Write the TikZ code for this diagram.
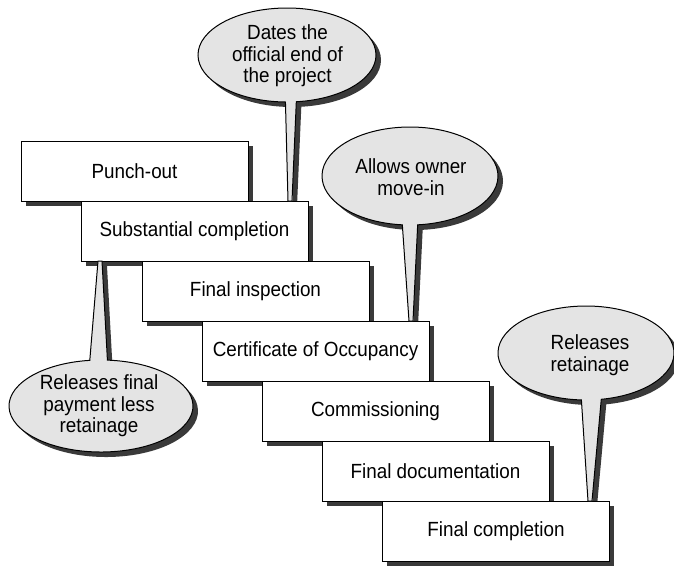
\documentclass[tikz,border=0pt]{standalone}
\usepackage{fontspec}
\setmainfont{Liberation Sans}[FakeStretch=0.92]
\usetikzlibrary{calc}

\definecolor{shadowgray}{RGB}{58,58,58}
\definecolor{bubblegray}{RGB}{228,228,228}

% Speech balloon outline: ellipse centre #1, radii #2/#3, pointer leaving the
% ellipse at angle #4, running to tips #5 and #6, back at angle #7, then the
% rest of the ellipse as an arc ending at angle #8.
\newcommand{\balloon}[8]{($(#1)+(#4:#2 and #3)$) -- (#5) -- (#6) --
  ($(#1)+(#7:#2 and #3)$) arc[start angle=#7, end angle=#8, x radius=#2, y radius=#3] -- cycle}

\tikzset{
  labelfont/.style={font=\fontsize{20.5}{21.5}\selectfont},
  stepbox/.style={draw, line width=1pt, fill=white, minimum width=227pt,
    minimum height=60pt, inner sep=0pt, labelfont},
  bubble/.style={draw, line width=1pt, fill=bubblegray, line join=miter},
  bubbletext/.style={align=center, inner sep=0pt, labelfont}
}

\begin{document}
\begin{tikzpicture}[x=1pt,y=1pt]
\useasboundingbox (0,0) rectangle (674,-566);

% balloon centres
\coordinate (e1) at (287,-55);
\coordinate (e2) at (410,-176);
\coordinate (e3) at (101,-406);
\coordinate (e4) at (586,-353);
% pointer tips
\coordinate (p1a) at (288,-201); \coordinate (p1b) at (292,-201);
\coordinate (p2a) at (409,-321); \coordinate (p2b) at (413,-321);
\coordinate (p3a) at (102,-261); \coordinate (p3b) at (98,-261);
\coordinate (p4a) at (588,-501); \coordinate (p4b) at (592,-501);
% the same, offset for the shadows
\coordinate (s1) at (292,-60);
\coordinate (s2) at (415,-181);
\coordinate (s3) at (106,-411);
\coordinate (s4) at (591,-358);
\coordinate (q1a) at (293,-206); \coordinate (q1b) at (297,-206);
\coordinate (q2a) at (414,-326); \coordinate (q2b) at (418,-326);
\coordinate (q3a) at (107,-266); \coordinate (q3b) at (103,-266);
\coordinate (q4a) at (593,-506); \coordinate (q4b) at (597,-506);

% balloon shadows, behind the steps
\fill[shadowgray] \balloon{s1}{89}{47}{269}{q1a}{q1b}{276}{629};
\fill[shadowgray] \balloon{s2}{88}{49}{265}{q2a}{q2b}{275}{625};
\fill[shadowgray] \balloon{s3}{92}{46}{86}{q3a}{q3b}{97}{446};
\fill[shadowgray] \balloon{s4}{88}{47}{267}{q4a}{q4b}{280}{627};

% the staircase of close-out steps, each over its shadow
\fill[shadowgray] (25.5,-145.5) rectangle (252.5,-205.5);
\node[stepbox] (b1) at (134.5,-171) {Punch-out};
\fill[shadowgray] (85.5,-205.5) rectangle (312.5,-265.5);
\node[stepbox] (b2) at (194.5,-231) {Substantial completion};
\fill[shadowgray] (146.5,-265.5) rectangle (373.5,-325.5);
\node[stepbox] (b3) at (255.5,-291) {Final inspection};
\fill[shadowgray] (206.5,-325.5) rectangle (433.5,-385.5);
\node[stepbox] (b4) at (315.5,-351) {Certificate of Occupancy};
\fill[shadowgray] (266.5,-385.5) rectangle (493.5,-445.5);
\node[stepbox] (b5) at (375.5,-411) {Commissioning};
\fill[shadowgray] (326.5,-445.5) rectangle (553.5,-505.5);
\node[stepbox] (b6) at (435.5,-471) {Final documentation};
\fill[shadowgray] (387,-505.5) rectangle (613.5,-565.5);
\node[stepbox] (b7) at (496,-531) {Final completion};

% balloons
\path[bubble] \balloon{e1}{89}{47}{269}{p1a}{p1b}{276}{629};
\path[bubble] \balloon{e2}{88}{49}{265}{p2a}{p2b}{275}{625};
\path[bubble] \balloon{e3}{92}{46}{86}{p3a}{p3b}{97}{446};
\path[bubble] \balloon{e4}{88}{47}{267}{p4a}{p4b}{280}{627};

\node[bubbletext] (c1) at (287.5,-56) {Dates the\\official end of\\the project};
\node[bubbletext] (c2) at (411,-177) {Allows owner\\move-in};
\node[bubbletext] (c3) at (99,-406) {Releases final\\payment less\\retainage};
\node[bubbletext] (c4) at (590,-355) {Releases\\retainage};
\end{tikzpicture}
\end{document}
